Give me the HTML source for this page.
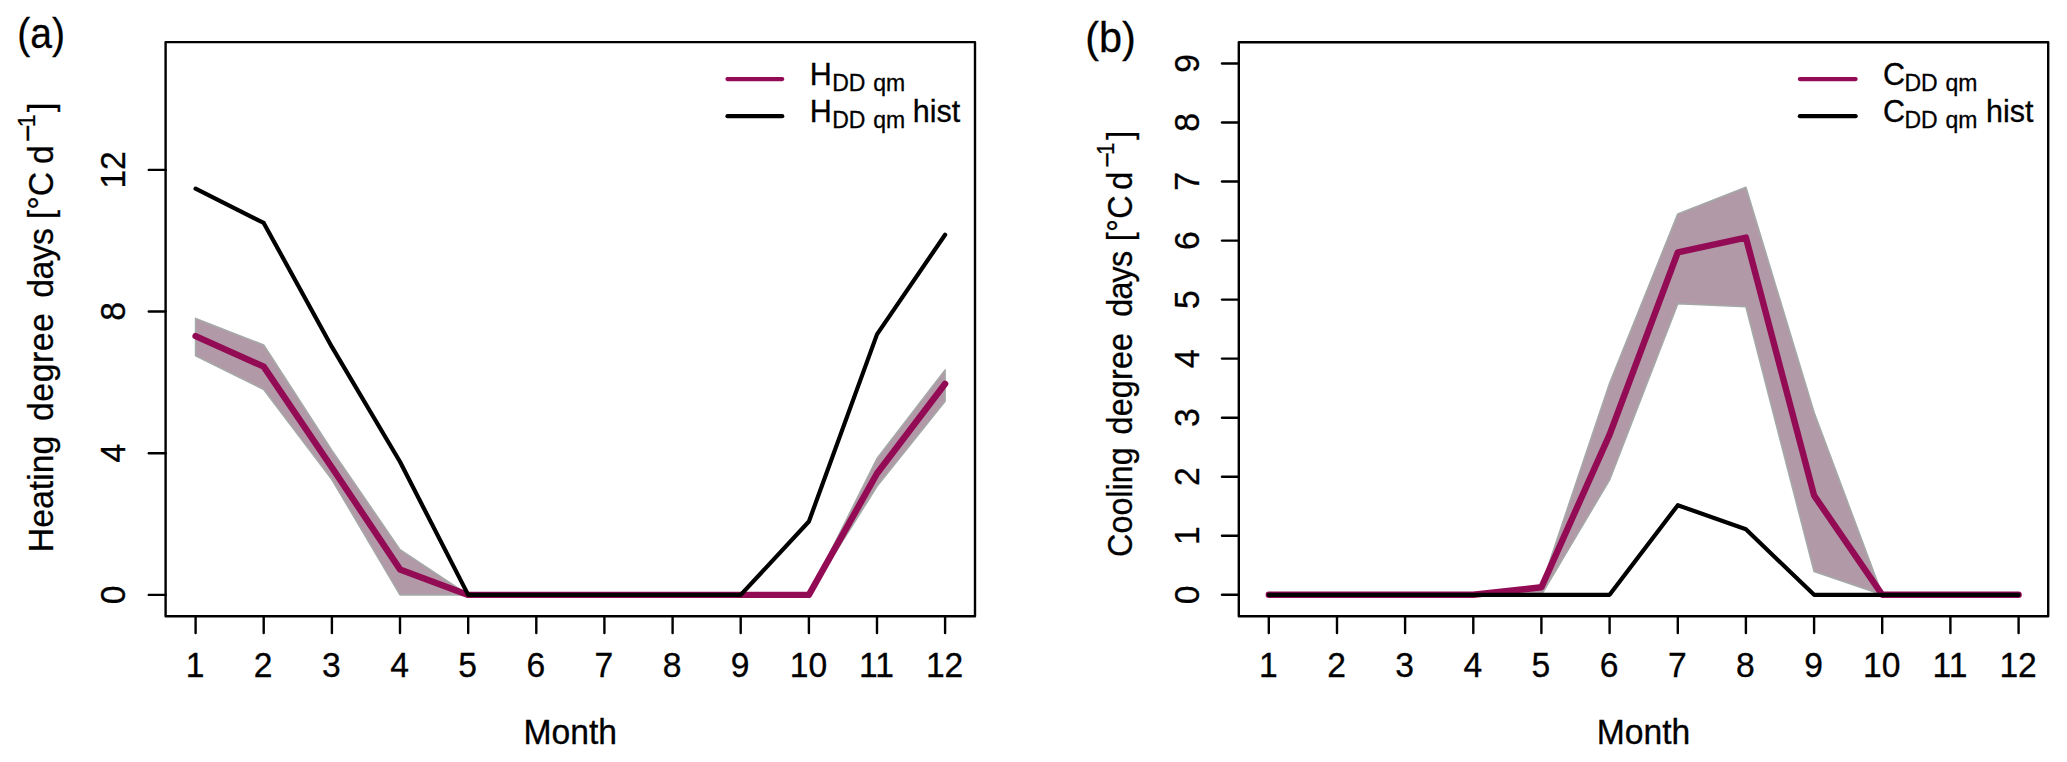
<!DOCTYPE html>
<html lang="en"><head><meta charset="utf-8"><title>Heating and cooling degree days</title>
<style>
html,body{margin:0;padding:0;background:#fff;}
svg{display:block;}
text{font-family:"Liberation Sans", sans-serif;fill:#000;stroke:#000;stroke-width:0.3px;}
</style></head>
<body>
<svg width="2067" height="762" viewBox="0 0 2067 762">
<rect width="2067" height="762" fill="#fff"/>
<g id="panel-a">
<polygon points="195.6,318.4 263.7,345.0 331.9,450.5 400.0,549.7 468.2,594.9 536.3,594.9 604.4,594.9 672.6,594.9 740.7,594.9 808.9,594.9 877.0,458.5 945.1,370.0 945.1,401.3 877.0,486.3 808.9,594.9 740.7,594.9 672.6,594.9 604.4,594.9 536.3,594.9 468.2,594.9 400.0,594.9 331.9,479.5 263.7,389.5 195.6,355.8" fill="#B299A8" stroke="#A5A9A7" stroke-width="1.6" stroke-linejoin="round"/>
<polyline points="195.6,336.1 263.7,366.6 331.9,467.5 400.0,569.4 468.2,594.9 536.3,594.9 604.4,594.9 672.6,594.9 740.7,594.9 808.9,594.9 877.0,473.5 945.1,383.8" fill="none" stroke="#930A55" stroke-width="6.4" stroke-linecap="round" stroke-linejoin="round"/>
<polyline points="195.6,188.7 263.7,222.9 331.9,346.9 400.0,461.8 468.2,594.9 536.3,594.9 604.4,594.9 672.6,594.9 740.7,594.9 808.9,521.5 877.0,334.4 945.1,234.7" fill="none" stroke="#000" stroke-width="4.2" stroke-linecap="round" stroke-linejoin="round"/>
<rect x="165.6" y="42.1" width="809.4" height="574.2" fill="none" stroke="#000" stroke-width="2.4" stroke-linejoin="round"/>
<line x1="195.6" y1="616.3" x2="195.6" y2="633.1" stroke="#000" stroke-width="2.4" stroke-linecap="round"/>
<text transform="translate(195.1,677.0) scale(0.99,1.04)" font-size="34" text-anchor="middle">1</text>
<line x1="263.7" y1="616.3" x2="263.7" y2="633.1" stroke="#000" stroke-width="2.4" stroke-linecap="round"/>
<text transform="translate(263.2,677.0) scale(0.99,1.04)" font-size="34" text-anchor="middle">2</text>
<line x1="331.9" y1="616.3" x2="331.9" y2="633.1" stroke="#000" stroke-width="2.4" stroke-linecap="round"/>
<text transform="translate(331.4,677.0) scale(0.99,1.04)" font-size="34" text-anchor="middle">3</text>
<line x1="400.0" y1="616.3" x2="400.0" y2="633.1" stroke="#000" stroke-width="2.4" stroke-linecap="round"/>
<text transform="translate(399.5,677.0) scale(0.99,1.04)" font-size="34" text-anchor="middle">4</text>
<line x1="468.2" y1="616.3" x2="468.2" y2="633.1" stroke="#000" stroke-width="2.4" stroke-linecap="round"/>
<text transform="translate(467.7,677.0) scale(0.99,1.04)" font-size="34" text-anchor="middle">5</text>
<line x1="536.3" y1="616.3" x2="536.3" y2="633.1" stroke="#000" stroke-width="2.4" stroke-linecap="round"/>
<text transform="translate(535.8,677.0) scale(0.99,1.04)" font-size="34" text-anchor="middle">6</text>
<line x1="604.4" y1="616.3" x2="604.4" y2="633.1" stroke="#000" stroke-width="2.4" stroke-linecap="round"/>
<text transform="translate(603.9,677.0) scale(0.99,1.04)" font-size="34" text-anchor="middle">7</text>
<line x1="672.6" y1="616.3" x2="672.6" y2="633.1" stroke="#000" stroke-width="2.4" stroke-linecap="round"/>
<text transform="translate(672.1,677.0) scale(0.99,1.04)" font-size="34" text-anchor="middle">8</text>
<line x1="740.7" y1="616.3" x2="740.7" y2="633.1" stroke="#000" stroke-width="2.4" stroke-linecap="round"/>
<text transform="translate(740.2,677.0) scale(0.99,1.04)" font-size="34" text-anchor="middle">9</text>
<line x1="808.9" y1="616.3" x2="808.9" y2="633.1" stroke="#000" stroke-width="2.4" stroke-linecap="round"/>
<text transform="translate(808.4,677.0) scale(0.99,1.04)" font-size="34" text-anchor="middle">10</text>
<line x1="877.0" y1="616.3" x2="877.0" y2="633.1" stroke="#000" stroke-width="2.4" stroke-linecap="round"/>
<text transform="translate(876.5,677.0) scale(0.99,1.04)" font-size="34" text-anchor="middle">11</text>
<line x1="945.1" y1="616.3" x2="945.1" y2="633.1" stroke="#000" stroke-width="2.4" stroke-linecap="round"/>
<text transform="translate(944.6,677.0) scale(0.99,1.04)" font-size="34" text-anchor="middle">12</text>
<line x1="148.8" y1="594.9" x2="165.6" y2="594.9" stroke="#000" stroke-width="2.4" stroke-linecap="round"/>
<text transform="translate(125.3,594.9) rotate(-90) scale(0.99,1.04)" font-size="34" text-anchor="middle">0</text>
<line x1="148.8" y1="453.2" x2="165.6" y2="453.2" stroke="#000" stroke-width="2.4" stroke-linecap="round"/>
<text transform="translate(125.3,453.2) rotate(-90) scale(0.99,1.04)" font-size="34" text-anchor="middle">4</text>
<line x1="148.8" y1="311.5" x2="165.6" y2="311.5" stroke="#000" stroke-width="2.4" stroke-linecap="round"/>
<text transform="translate(125.3,311.5) rotate(-90) scale(0.99,1.04)" font-size="34" text-anchor="middle">8</text>
<line x1="148.8" y1="169.9" x2="165.6" y2="169.9" stroke="#000" stroke-width="2.4" stroke-linecap="round"/>
<text transform="translate(125.3,169.9) rotate(-90) scale(0.99,1.04)" font-size="34" text-anchor="middle">12</text>
<text transform="translate(570.3,744.2) scale(0.99,1.01)" font-size="34" text-anchor="middle">Month</text>
<text transform="translate(52.5,552.2) rotate(-90) scale(0.995,1.02)" font-size="34"><tspan x="0.0" y="0.0">Heating </tspan><tspan x="131.9" y="0.0" letter-spacing="0.49">degree </tspan><tspan x="255.8" y="0.0" letter-spacing="-0.59">days </tspan><tspan x="334.7" y="0.0">[°C </tspan><tspan x="390.1" y="0.0">d</tspan><tspan x="412.6" y="-14.0" font-size="30">−</tspan><tspan x="427.1" y="-17.0" font-size="23.5">1</tspan><tspan x="442.3" y="0.0">]</tspan></text>
<text transform="translate(17.2,48.4) scale(0.93,1)" font-size="42">(a)</text>
<line x1="727.5" y1="79.1" x2="782.2" y2="79.1" stroke="#930A55" stroke-width="4.3" stroke-linecap="round"/>
<line x1="727.5" y1="116.2" x2="782.2" y2="116.2" stroke="#000" stroke-width="4.3" stroke-linecap="round"/>
<text x="809.7" y="84.9" font-size="30.5">H<tspan font-size="23" dy="5.8" dx="0.5" word-spacing="1.4">DD qm</tspan></text>
<text x="809.7" y="122.1" font-size="30.5">H<tspan font-size="23" dy="5.8" dx="0.5" word-spacing="1.4">DD qm</tspan> <tspan x="912.8" y="122.1">hist</tspan></text>
</g>
<g id="panel-b">
<polygon points="1473.3,594.8 1541.4,586.0 1609.6,383.3 1677.8,213.9 1745.9,187.3 1814.1,412.5 1882.2,594.8 1882.2,594.8 1814.1,571.6 1745.9,306.8 1677.8,303.8 1609.6,479.9 1541.4,594.8 1473.3,594.8" fill="#B299A8" stroke="#A5A9A7" stroke-width="1.6" stroke-linejoin="round"/>
<polyline points="1268.8,594.8 1337.0,594.8 1405.1,594.8 1473.3,594.8 1541.4,587.3 1609.6,434.6 1677.8,252.3 1745.9,237.6 1814.1,495.5 1882.2,594.8 1950.4,594.8 2018.6,594.8" fill="none" stroke="#930A55" stroke-width="6.4" stroke-linecap="round" stroke-linejoin="round"/>
<polyline points="1268.8,594.8 1337.0,594.8 1405.1,594.8 1473.3,594.8 1541.4,594.8 1609.6,594.8 1677.8,505.2 1745.9,529.3 1814.1,594.8 1882.2,594.8 1950.4,594.8 2018.6,594.8" fill="none" stroke="#000" stroke-width="4.2" stroke-linecap="round" stroke-linejoin="round"/>
<rect x="1238.8" y="42.2" width="809.4" height="574.1" fill="none" stroke="#000" stroke-width="2.4" stroke-linejoin="round"/>
<line x1="1268.8" y1="616.3" x2="1268.8" y2="633.1" stroke="#000" stroke-width="2.4" stroke-linecap="round"/>
<text transform="translate(1268.3,677.0) scale(0.99,1.04)" font-size="34" text-anchor="middle">1</text>
<line x1="1337.0" y1="616.3" x2="1337.0" y2="633.1" stroke="#000" stroke-width="2.4" stroke-linecap="round"/>
<text transform="translate(1336.5,677.0) scale(0.99,1.04)" font-size="34" text-anchor="middle">2</text>
<line x1="1405.1" y1="616.3" x2="1405.1" y2="633.1" stroke="#000" stroke-width="2.4" stroke-linecap="round"/>
<text transform="translate(1404.6,677.0) scale(0.99,1.04)" font-size="34" text-anchor="middle">3</text>
<line x1="1473.3" y1="616.3" x2="1473.3" y2="633.1" stroke="#000" stroke-width="2.4" stroke-linecap="round"/>
<text transform="translate(1472.8,677.0) scale(0.99,1.04)" font-size="34" text-anchor="middle">4</text>
<line x1="1541.4" y1="616.3" x2="1541.4" y2="633.1" stroke="#000" stroke-width="2.4" stroke-linecap="round"/>
<text transform="translate(1540.9,677.0) scale(0.99,1.04)" font-size="34" text-anchor="middle">5</text>
<line x1="1609.6" y1="616.3" x2="1609.6" y2="633.1" stroke="#000" stroke-width="2.4" stroke-linecap="round"/>
<text transform="translate(1609.1,677.0) scale(0.99,1.04)" font-size="34" text-anchor="middle">6</text>
<line x1="1677.8" y1="616.3" x2="1677.8" y2="633.1" stroke="#000" stroke-width="2.4" stroke-linecap="round"/>
<text transform="translate(1677.3,677.0) scale(0.99,1.04)" font-size="34" text-anchor="middle">7</text>
<line x1="1745.9" y1="616.3" x2="1745.9" y2="633.1" stroke="#000" stroke-width="2.4" stroke-linecap="round"/>
<text transform="translate(1745.4,677.0) scale(0.99,1.04)" font-size="34" text-anchor="middle">8</text>
<line x1="1814.1" y1="616.3" x2="1814.1" y2="633.1" stroke="#000" stroke-width="2.4" stroke-linecap="round"/>
<text transform="translate(1813.6,677.0) scale(0.99,1.04)" font-size="34" text-anchor="middle">9</text>
<line x1="1882.2" y1="616.3" x2="1882.2" y2="633.1" stroke="#000" stroke-width="2.4" stroke-linecap="round"/>
<text transform="translate(1881.7,677.0) scale(0.99,1.04)" font-size="34" text-anchor="middle">10</text>
<line x1="1950.4" y1="616.3" x2="1950.4" y2="633.1" stroke="#000" stroke-width="2.4" stroke-linecap="round"/>
<text transform="translate(1949.9,677.0) scale(0.99,1.04)" font-size="34" text-anchor="middle">11</text>
<line x1="2018.6" y1="616.3" x2="2018.6" y2="633.1" stroke="#000" stroke-width="2.4" stroke-linecap="round"/>
<text transform="translate(2018.1,677.0) scale(0.99,1.04)" font-size="34" text-anchor="middle">12</text>
<line x1="1222.0" y1="594.8" x2="1238.8" y2="594.8" stroke="#000" stroke-width="2.4" stroke-linecap="round"/>
<text transform="translate(1198.5,594.8) rotate(-90) scale(0.99,1.04)" font-size="34" text-anchor="middle">0</text>
<line x1="1222.0" y1="535.7" x2="1238.8" y2="535.7" stroke="#000" stroke-width="2.4" stroke-linecap="round"/>
<text transform="translate(1198.5,535.7) rotate(-90) scale(0.99,1.04)" font-size="34" text-anchor="middle">1</text>
<line x1="1222.0" y1="476.7" x2="1238.8" y2="476.7" stroke="#000" stroke-width="2.4" stroke-linecap="round"/>
<text transform="translate(1198.5,476.7) rotate(-90) scale(0.99,1.04)" font-size="34" text-anchor="middle">2</text>
<line x1="1222.0" y1="417.7" x2="1238.8" y2="417.7" stroke="#000" stroke-width="2.4" stroke-linecap="round"/>
<text transform="translate(1198.5,417.7) rotate(-90) scale(0.99,1.04)" font-size="34" text-anchor="middle">3</text>
<line x1="1222.0" y1="358.6" x2="1238.8" y2="358.6" stroke="#000" stroke-width="2.4" stroke-linecap="round"/>
<text transform="translate(1198.5,358.6) rotate(-90) scale(0.99,1.04)" font-size="34" text-anchor="middle">4</text>
<line x1="1222.0" y1="299.6" x2="1238.8" y2="299.6" stroke="#000" stroke-width="2.4" stroke-linecap="round"/>
<text transform="translate(1198.5,299.6) rotate(-90) scale(0.99,1.04)" font-size="34" text-anchor="middle">5</text>
<line x1="1222.0" y1="240.6" x2="1238.8" y2="240.6" stroke="#000" stroke-width="2.4" stroke-linecap="round"/>
<text transform="translate(1198.5,240.6) rotate(-90) scale(0.99,1.04)" font-size="34" text-anchor="middle">6</text>
<line x1="1222.0" y1="181.5" x2="1238.8" y2="181.5" stroke="#000" stroke-width="2.4" stroke-linecap="round"/>
<text transform="translate(1198.5,181.5) rotate(-90) scale(0.99,1.04)" font-size="34" text-anchor="middle">7</text>
<line x1="1222.0" y1="122.5" x2="1238.8" y2="122.5" stroke="#000" stroke-width="2.4" stroke-linecap="round"/>
<text transform="translate(1198.5,122.5) rotate(-90) scale(0.99,1.04)" font-size="34" text-anchor="middle">8</text>
<line x1="1222.0" y1="63.5" x2="1238.8" y2="63.5" stroke="#000" stroke-width="2.4" stroke-linecap="round"/>
<text transform="translate(1198.5,63.5) rotate(-90) scale(0.99,1.04)" font-size="34" text-anchor="middle">9</text>
<text transform="translate(1643.5,744.2) scale(0.99,1.01)" font-size="34" text-anchor="middle">Month</text>
<text transform="translate(1131.5,556.9) rotate(-90) scale(0.95,1.02)" font-size="34"><tspan x="0.0" y="0.0">Cooling </tspan><tspan x="128.9" y="0.0" letter-spacing="0.2">degree </tspan><tspan x="252.9" y="0.0" letter-spacing="-0.86">days </tspan><tspan x="332.2" y="0.0" letter-spacing="0.4">[°C </tspan><tspan x="386.6" y="0.0">d</tspan><tspan x="409.8" y="-14.6" font-size="28.2">−</tspan><tspan x="423.1" y="-17.0" font-size="23.5">1</tspan><tspan x="439.2" y="0.0">]</tspan></text>
<text transform="translate(1085.2,52.0) scale(0.985,1)" font-size="42">(b)</text>
<line x1="1799.9" y1="79.1" x2="1855.6" y2="79.1" stroke="#930A55" stroke-width="4.3" stroke-linecap="round"/>
<line x1="1799.9" y1="116.2" x2="1855.6" y2="116.2" stroke="#000" stroke-width="4.3" stroke-linecap="round"/>
<text x="1882.9" y="84.9" font-size="30.5">C<tspan font-size="23" dy="5.8" dx="-0.5" word-spacing="1.4">DD qm</tspan></text>
<text x="1882.9" y="122.1" font-size="30.5">C<tspan font-size="23" dy="5.8" dx="-0.5" word-spacing="1.4">DD qm</tspan> <tspan x="1986.0" y="122.1">hist</tspan></text>
</g>
</svg>
</body></html>
